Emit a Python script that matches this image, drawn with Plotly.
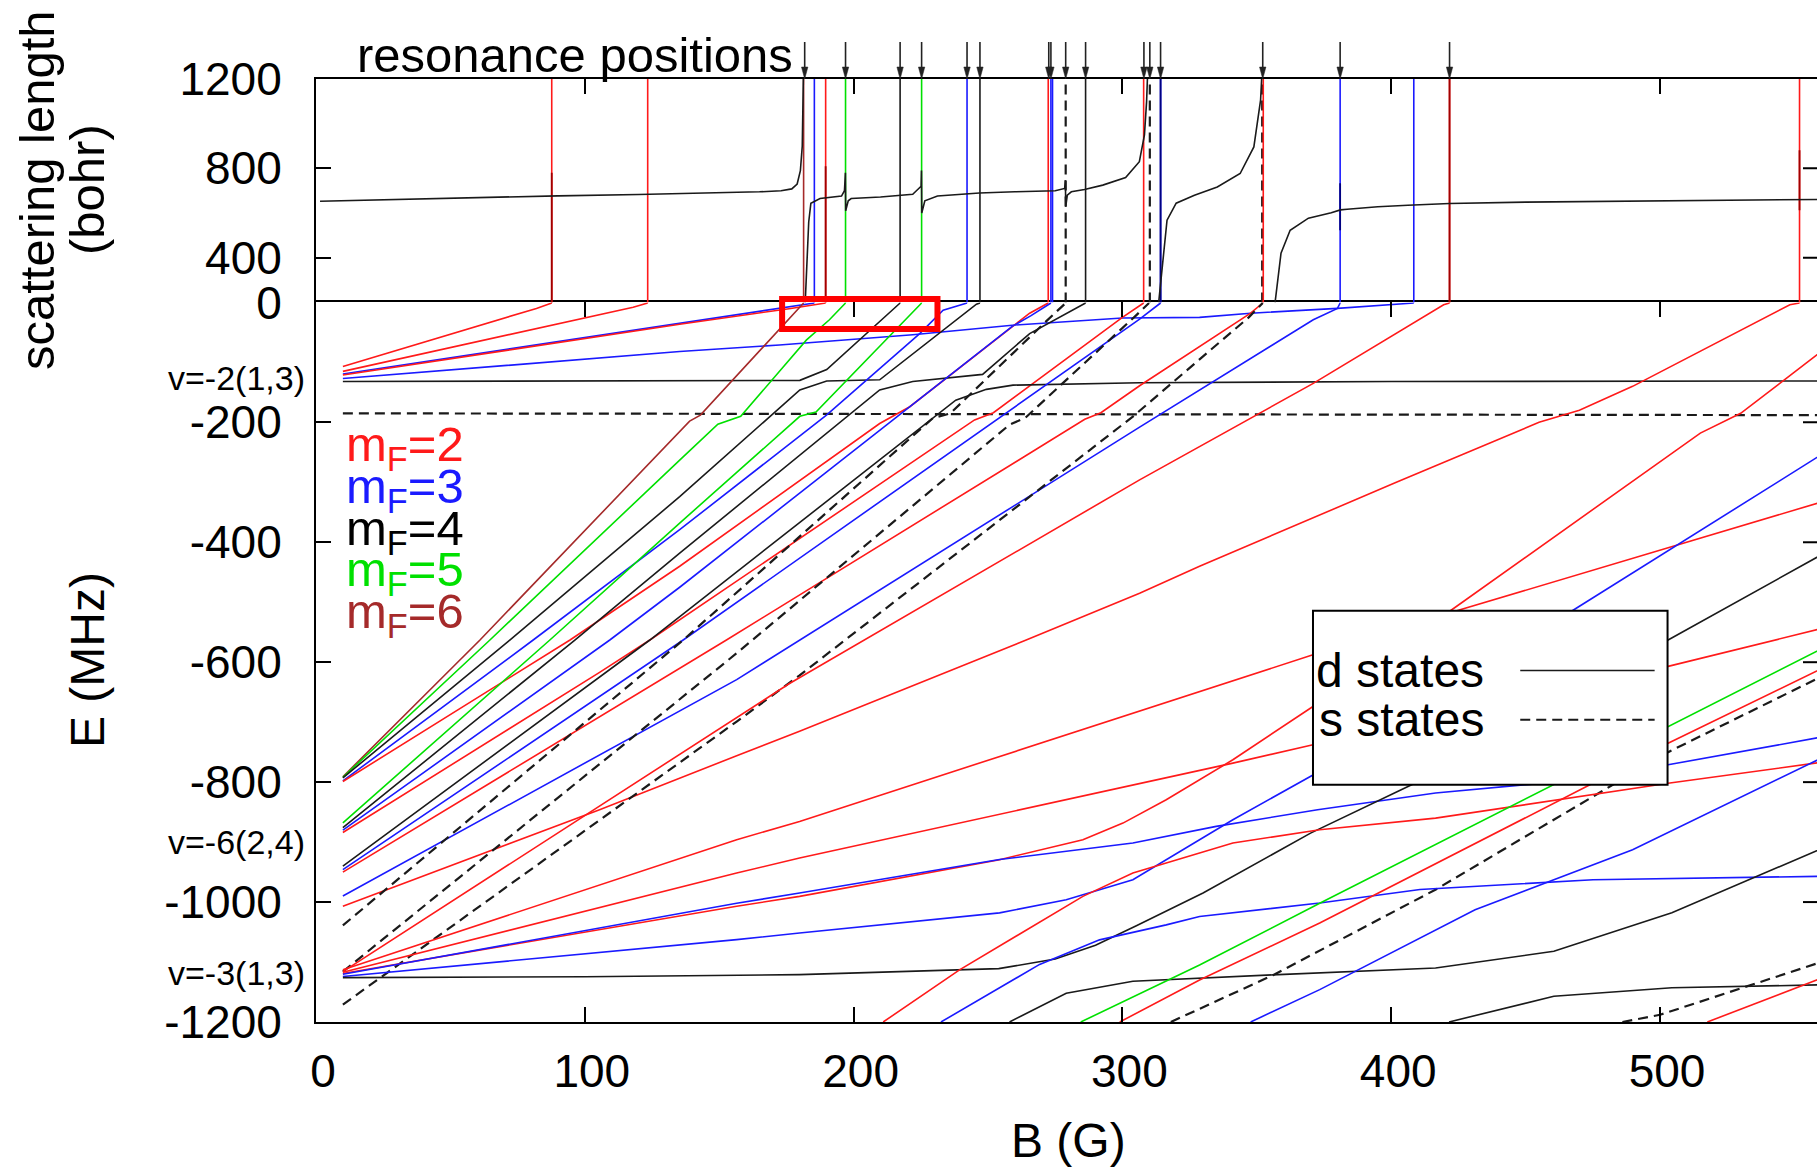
import plotly.graph_objects as go

# ======================= DATA =======================
B_ticks = [0, 100, 200, 300, 400, 500]
E_ticks = [-1200, -1000, -800, -600, -400, -200, 0]
a_ticks = [400, 800, 1200]

# resonance positions marked with arrows on top (G)
arrow_B = [181.8, 197.0, 217.3, 225.3, 242.2, 247.0, 272.6, 273.4, 278.9,
           286.3, 308.0, 310.2, 314.2, 352.2, 381.0, 421.7]

# poles of the scattering length (vertical lines in the upper panel)
pole_B  = [87.7, 123.4, 181.4, 185.4, 189.6, 197.0, 217.3, 225.3, 242.2, 247.0,
           272.4, 273.4, 274.0, 278.9, 286.3, 307.9, 310.2, 314.2, 352.0, 352.4,
           381.0, 408.4, 421.7, 551.9]
pole_mF = [2, 2, 6, 3, 2, 5, 4, 5, 3, 4, 2, 3, 3, 4, 4, 2, 4, 3, 4, 2, 3, 3, 2, 2]
pole_s  = [0, 0, 0, 0, 0, 0, 0, 0, 0, 0, 0, 0, 0, 1, 0, 0, 1, 0, 1, 0, 0, 0, 0, 0]
# darker parts of some pole lines: (B, a_from, a_to, mF)
pole_dark = [(87.7, 200, 780, 2), (189.6, 200, 810, 2), (421.7, 200, 1200, 2),
             (381.0, 523, 733, 3), (314.2, 200, 1200, 3), (551.9, 613, 881, 2)]

# background scattering length (bohr) vs B, four branches between poles
bg1 = [(1.5, 653), (30, 661), (60, 670), (90, 677), (120, 683), (142, 688), (165, 695),
       (173, 700), (177, 708), (179, 730), (180.2, 790), (180.9, 900), (181.3, 1200)]
bg2 = [(182.0, 200), (182.6, 400), (183.3, 560), (184.1, 644), (187.5, 665), (195.5, 676),
       (196.6, 700), (196.95, 780), (197.05, 610), (198, 655), (199.1, 665), (210, 672),
       (217.0, 680), (222, 684), (225.1, 720), (225.25, 790), (225.35, 600), (226.5, 655),
       (231.2, 676), (246.8, 690), (260, 695), (275, 700), (278.5, 710), (278.8, 747),
       (278.9, 628), (279.5, 680), (281, 695), (285.9, 705), (292.7, 725), (301.2, 759),
       (306.3, 830), (308.2, 950), (309.0, 1100), (309.3, 1200)]
bg3 = [(313.5, 200), (314.9, 360), (316.6, 568), (320, 644), (326.8, 680), (335.3, 717),
       (343.8, 777), (348.9, 896), (351.4, 1105), (351.8, 1200)]
bg4 = [(356.8, 200), (359, 420), (362.4, 523), (369.2, 577), (377.7, 601), (380.9, 612),
       (381.1, 614), (383.6, 617), (395, 628), (406.2, 635), (421.7, 643), (450, 649),
       (489.9, 653), (520, 657), (560, 661)]

# ---- bound-state energies E (MHz) vs B (G); lower panel ----
# v=-2(1,3) group
v2_red_a   = [(10, -107), (82, -10), (87.7, -1)]
v2_red_b   = [(10, -115), (118, -8), (123.4, -1)]
v2_blue_a  = [(10, -119.5), (105.5, -55), (135.3, -35), (175, -9), (185.4, -1)]
v2_red_c   = [(10, -121), (105.5, -56.5), (135.3, -36.5), (176, -10.5), (189.6, -1)]
v2_blue_b  = [(10, -127), (105.5, -93), (135.3, -82), (172.4, -71), (197.3, -63), (222, -54),
              (259, -38), (300, -26), (328.7, -25), (347.7, -18), (380, -10), (399, -4.4), (408.4, -1)]
v2_black   = [(10, -132), (180, -130), (190, -112), (217.3, -1)]
s_flat     = [(10, -185), (560, -188)]
# group starting near -795 MHz
g1_brown = [(10, -791), (61, -563), (139, -198), (143, -188), (181.4, -1)]
g1_green = [(10, -792), (64.7, -563), (135.3, -263), (149.5, -203), (158, -190), (167.5, -140),
            (182.4, -63), (191, -29), (197, -1)]
g1_black = [(10, -793), (72.1, -563), (135.3, -324), (180, -146), (190, -131), (209.7, -129),
            (245.7, -3), (247, -1)]
g1_blue  = [(10, -798), (80.8, -563), (135.3, -379), (189.9, -188), (224.6, -52), (233.3, -13), (242.2, -1)]
g1_red   = [(10, -799), (94.5, -563), (135.3, -440), (209.7, -202), (220.9, -174), (265.5, -18), (272.4, -1)]
# v=-6(2,4) group near -875 MHz
g2_green = [(10, -868), (87, -563), (135.3, -368), (180, -190), (186, -183), (209.7, -74),
            (220.9, -21), (225.3, -1)]
g2_black = [(10, -876), (96.3, -563), (135.3, -418), (209.7, -146), (222, -132), (248, -120),
            (265.5, -52), (286.3, -1)]
g2_blue  = [(10, -880), (109.3, -563), (135.3, -475), (259, -40), (266, -22), (273.4, -1)]
g2_red   = [(10, -884), (105.5, -617), (124.2, -563), (245, -196), (252, -184), (300, -25), (307.9, -1)]
# group near -945 MHz
g3_black = [(10, -940), (124.2, -563), (238, -163), (249.4, -145), (259.3, -138), (306.4, -134),
            (400, -132), (560, -131)]
g3_blue  = [(10, -946), (105.5, -657), (136.6, -563), (306.4, -28), (314.2, -1)]
g3_red   = [(10, -950), (105.5, -691), (152.7, -563), (286, -195), (292, -184), (306.4, -139),
            (328.7, -74), (347.7, -18), (352.2, -1)]
g4_blue  = [(10, -990), (105.5, -754), (156.5, -629), (306.4, -208), (328.7, -146), (371, -29),
            (380, -10), (381, -1)]
g4_red   = [(10, -1007), (105.5, -846), (156.5, -756), (179.9, -715), (264.2, -563), (306.4, -485),
            (328.7, -440), (401.9, -300), (455, -200), (470, -180), (489.8, -140), (548.3, -4), (551.9, -1)]
# s states (dashed)
s_diag_a = [(10, -1039), (136.6, -563), (229.5, -193), (236, -185), (272, -30), (278.9, -1)]
s_diag_b = [(10, -1116), (156.5, -585), (258, -204), (264, -192), (305, -22), (309.9, -1)]
s_diag_c = [(10, -1171), (156.5, -699), (179.9, -622), (300, -205), (304, -190), (328.7, -95),
            (347, -25), (352.2, -1)]
s_diag_d = [(318, -1200), (356, -1122), (416.6, -979), (483.9, -801), (503, -750), (560, -624)]
s_diag_e = [(486, -1200), (500, -1188), (560, -1100)]
# v=-3(1,3) group near -1120 MHz
v3_red_a   = [(10, -1116), (156.5, -693), (176, -636), (306.4, -296), (328.7, -240), (371, -135),
              (419.5, -4), (421.7, -1)]
v3_red_b   = [(10, -1113), (156.5, -896), (179.9, -865.5), (370.9, -587.7), (425.3, -513),
              (508.8, -402), (560, -333)]
v3_red_c   = [(10, -1117), (156.5, -951.6), (179.9, -926.6), (285.3, -823.8), (341.1, -768.3),
              (370.9, -737.7), (503, -607), (560, -544)]
v3_red_d   = [(10, -1119), (156.5, -1007), (179.9, -990.5), (254.3, -929.4), (285.3, -896),
              (300.2, -868.3), (316.3, -829.4), (341.1, -762.7), (370.9, -673.8), (422.4, -513),
              (515, -218), (530, -185), (560, -82)]
v3_blue_a  = [(10, -1120.5), (156.5, -1002), (179.9, -985), (254.3, -929), (303.9, -901.6),
              (334.9, -873.8), (372.6, -846), (416.5, -818), (460.5, -800), (503, -771), (560, -725)]
v3_blue_b  = [(10, -1124), (156.5, -1062.7), (179.9, -1051.6), (254.3, -1018), (279.1, -996),
              (303.9, -962.7), (341.1, -862.7), (370.9, -788), (467.8, -513), (560, -254)]
v3_black   = [(10, -1126), (100, -1124.5), (179.9, -1121), (254, -1111), (275, -1095), (290, -1072),
              (305, -1040), (330, -985), (370, -885), (407.8, -804), (503, -563), (560, -421)]
# states entering from below
low_red_a   = [(211, -1200), (239.4, -1113), (285.3, -990.5), (303.9, -951.6), (341.1, -901.6),
               (373.4, -879.4), (416.5, -860), (460.5, -830), (503, -802), (560, -767)]
low_blue_a  = [(232.5, -1200), (269.2, -1104), (291.5, -1063), (316.3, -1038), (328.7, -1024),
               (373.4, -1001.6), (410.7, -979), (475.1, -962.7), (560, -957)]
low_black_a = [(258, -1200), (279.1, -1152), (303.9, -1132), (328.7, -1126.6), (358, -1121),
               (416.5, -1110), (460.5, -1082), (504.4, -1018), (560, -911)]
low_green   = [(284.5, -1200), (328.7, -1105), (373.4, -1002), (460.5, -804), (503, -707), (560, -578)]
low_red_b   = [(299, -1200), (328.7, -1130), (373.4, -1035), (475, -802), (503, -735), (560, -611)]
low_blue_b  = [(347.7, -1200), (373.4, -1146), (431.2, -1012.7), (489.8, -912.7), (560, -760)]
low_black_b = [(421.5, -1200), (460.5, -1157), (504.4, -1143), (560, -1138)]
low_red_c   = [(517.6, -1200), (560, -1127)]

# text labels
mF_values = [2, 3, 4, 5, 6]
v_labels  = ["v=-2(1,3)", "v=-6(2,4)", "v=-3(1,3)"]

# ======================= STYLE / GEOMETRY =======================
FONT = "Liberation Sans, Arial, Helvetica, sans-serif"
COL = {2: "#ff1a1a", 3: "#1a1aff", 4: "#1a1a1a", 5: "#00e000", 6: "#a52a2a"}
DARK = {2: "#a00000", 3: "#000080", 4: "#000000"}
DASH = "10px,6px"

FIG_W, FIG_H = 1817, 1170
M_L, M_R, M_T, M_B = 316, 0, 79, 148
PLOT_W = FIG_W - M_L - M_R
PLOT_H = FIG_H - M_T - M_B
Y_SPLIT = 302.4
LOWER_TOP = (FIG_H - M_B - Y_SPLIT) / PLOT_H
X_MAX = 558.4
G_PER_PX = X_MAX / PLOT_W


def px(x):
    return (x - M_L) / PLOT_W


def py(y):
    return (FIG_H - M_B - y) / PLOT_H


fig = go.Figure()

# ---- lower panel lines ----
energy_lines = [
    (v2_red_a, 2, 0), (v2_red_b, 2, 0), (v2_blue_a, 3, 0), (v2_red_c, 2, 0), (v2_blue_b, 3, 0),
    (v2_black, 4, 0), (s_flat, 4, 1),
    (g1_brown, 6, 0), (g1_green, 5, 0), (g1_black, 4, 0), (g1_blue, 3, 0), (g1_red, 2, 0),
    (g2_green, 5, 0), (g2_black, 4, 0), (g2_blue, 3, 0), (g2_red, 2, 0),
    (g3_black, 4, 0), (g3_blue, 3, 0), (g3_red, 2, 0), (g4_blue, 3, 0), (g4_red, 2, 0),
    (s_diag_a, 4, 1), (s_diag_b, 4, 1), (s_diag_c, 4, 1), (s_diag_d, 4, 1), (s_diag_e, 4, 1),
    (v3_red_a, 2, 0), (v3_red_b, 2, 0), (v3_red_c, 2, 0), (v3_red_d, 2, 0),
    (v3_blue_a, 3, 0), (v3_blue_b, 3, 0), (v3_black, 4, 0),
    (low_red_a, 2, 0), (low_blue_a, 3, 0), (low_black_a, 4, 0), (low_green, 5, 0),
    (low_red_b, 2, 0), (low_blue_b, 3, 0), (low_black_b, 4, 0), (low_red_c, 2, 0),
]
for pts, mf, s in energy_lines:
    fig.add_trace(go.Scatter(
        x=[p[0] for p in pts], y=[p[1] for p in pts], xaxis="x", yaxis="y",
        mode="lines", hoverinfo="skip", showlegend=False,
        line=dict(color=COL[mf], width=2.2 if s else 1.6, dash=DASH if s else "solid")))

# ---- upper panel ----
for b, mf, s in zip(pole_B, pole_mF, pole_s):
    fig.add_trace(go.Scatter(
        x=[b, b], y=[200, 1200], xaxis="x2", yaxis="y2", mode="lines", hoverinfo="skip",
        showlegend=False,
        line=dict(color=COL[mf], width=2.2 if s else 1.6, dash=DASH if s else "solid")))
for b, a0, a1, mf in pole_dark:
    fig.add_trace(go.Scatter(
        x=[b, b], y=[a0, a1], xaxis="x2", yaxis="y2", mode="lines", hoverinfo="skip",
        showlegend=False, line=dict(color=DARK[mf], width=1.8)))
for seg in (bg1, bg2, bg3, bg4):
    fig.add_trace(go.Scatter(
        x=[p[0] for p in seg], y=[p[1] for p in seg], xaxis="x2", yaxis="y2",
        mode="lines", hoverinfo="skip", showlegend=False,
        line=dict(color="#1a1a1a", width=1.6)))

axis_common = dict(showline=True, linewidth=2, linecolor="black", ticks="inside",
                   ticklen=15, tickwidth=2, tickcolor="black", showgrid=False,
                   zeroline=False, tickfont=dict(family=FONT, size=46, color="black"))

fig.update_layout(
    width=FIG_W, height=FIG_H,
    margin=dict(l=M_L, r=M_R, t=M_T, b=M_B, pad=0),
    paper_bgcolor="white", plot_bgcolor="white", showlegend=False,
    xaxis=dict(domain=[0, 1], range=[0, X_MAX], anchor="y", mirror="ticks",
               tickvals=B_ticks, ticktext=[str(v) for v in B_ticks],
               ticklabelstandoff=8, ticklabelshift=7, **axis_common),
    xaxis2=dict(domain=[0, 1], range=[0, X_MAX], anchor="y2", side="top", matches="x",
                tickvals=B_ticks, showticklabels=False, **axis_common),
    yaxis=dict(domain=[0, LOWER_TOP], range=[-1200, 0], anchor="x",
               tickvals=E_ticks, ticktext=[str(v) for v in E_ticks],
               ticklabelstandoff=23, **axis_common),
    yaxis2=dict(domain=[LOWER_TOP, 1], range=[200, 1200], anchor="x2",
                tickvals=a_ticks, ticktext=[str(v) for v in a_ticks],
                ticklabelstandoff=23, **axis_common),
)

shapes = []
# resonance-position arrows above the frame
for b in arrow_B:
    shapes.append(dict(type="line", xref="x", yref="paper", x0=b, x1=b, y0=py(70), y1=py(42),
                       line=dict(color="#222222", width=1.6)))
    hw = 3.2 * G_PER_PX
    shapes.append(dict(type="path", xref="x", yref="paper",
                       path=f"M {b - hw},{py(67)} L {b + hw},{py(67)} L {b},{py(79)} Z",
                       fillcolor="#222222", line=dict(color="#222222", width=0.5)))
# right-side inward ticks (the right frame is just outside the picture)
for e in E_ticks[1:-1]:
    shapes.append(dict(type="line", xref="paper", yref="y", x0=px(1803), x1=1.0, y0=e, y1=e,
                       line=dict(color="black", width=2)))
for a in a_ticks[:-1]:
    shapes.append(dict(type="line", xref="paper", yref="y2", x0=px(1803), x1=1.0, y0=a, y1=a,
                       line=dict(color="black", width=2)))
# key box
shapes.append(dict(type="rect", xref="x", yref="y", x0=370.9, x1=502.8, y0=-804.3, y1=-514.3,
                   fillcolor="white", line=dict(color="black", width=2), layer="above"))
shapes.append(dict(type="line", xref="x", yref="y", x0=448, x1=498, y0=-613.8, y1=-613.8,
                   line=dict(color="#1a1a1a", width=1.6), layer="above"))
shapes.append(dict(type="line", xref="x", yref="y", x0=448, x1=498, y0=-696, y1=-696,
                   line=dict(color="#1a1a1a", width=2.2, dash=DASH), layer="above"))
# red highlight rectangle
shapes.append(dict(type="rect", xref="x", yref="paper", x0=173.4, x1=231.2,
                   y0=py(329), y1=py(299), line=dict(color="#ff0000", width=6), layer="above"))
fig.update_layout(shapes=shapes)

ann = []
title_font = dict(family=FONT, size=48, color="black")
ann.append(dict(text="resonance positions", x=px(575), y=py(55), xref="paper", yref="paper",
                showarrow=False, xanchor="center", yanchor="middle",
                font=dict(family=FONT, size=49, color="black")))
ann.append(dict(text="B (G)", x=px(1068), y=py(1140), xref="paper", yref="paper",
                showarrow=False, xanchor="center", yanchor="middle", font=title_font))
ann.append(dict(text="E (MHz)", x=px(87), y=py(660), xref="paper", yref="paper", textangle=-90,
                showarrow=False, xanchor="center", yanchor="middle", font=title_font))
ann.append(dict(text="scattering length", x=px(37), y=py(190), xref="paper", yref="paper",
                textangle=-90, showarrow=False, xanchor="center", yanchor="middle",
                font=dict(family=FONT, size=49, color="black")))
ann.append(dict(text="(bohr)", x=px(87), y=py(190), xref="paper", yref="paper",
                textangle=-90, showarrow=False, xanchor="center", yanchor="middle",
                font=dict(family=FONT, size=49, color="black")))
for lab, ypix in zip(v_labels, [378, 842, 973]):
    ann.append(dict(text=lab, x=px(307), y=py(ypix), xref="paper", yref="paper", showarrow=False,
                    xanchor="right", yanchor="middle", font=dict(family=FONT, size=34, color="black")))
for i, mf in enumerate(mF_values):
    ann.append(dict(text=f"m<sub>F</sub>={mf}", x=px(344), y=py(448 + 41.5 * i), xref="paper",
                    yref="paper", showarrow=False, xanchor="left", yanchor="middle",
                    font=dict(family=FONT, size=49, color=COL[mf] if mf != 4 else "black")))
for lab, e in [("d states", -613.8), ("s states", -696)]:
    ann.append(dict(text=lab, x=435.4, y=e, xref="x", yref="y", showarrow=False,
                    xanchor="right", yanchor="middle", font=dict(family=FONT, size=48, color="black")))
fig.update_layout(annotations=ann)

fig.write_html("out.html")
